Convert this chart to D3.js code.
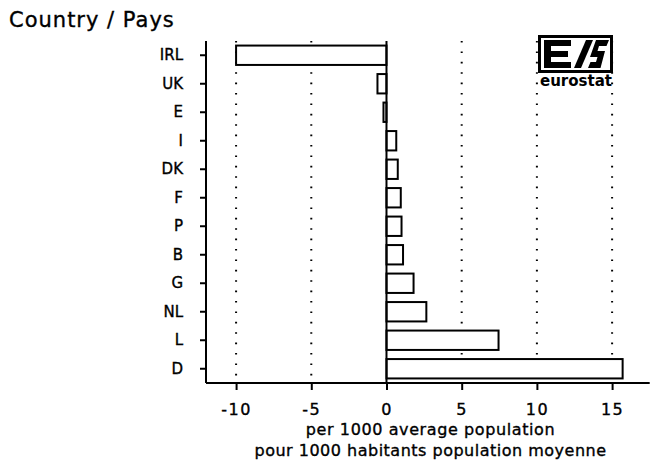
<!DOCTYPE html>
<html>
<head>
<meta charset="utf-8">
<script src="https://cdn.jsdelivr.net/npm/d3@7"></script>
<style>
body{margin:0;background:#fff;}
text{font-family:"DejaVu Sans",sans-serif;fill:#000;stroke:#000;stroke-width:0.35px;}
</style>
</head>
<body>
<div id="chart"></div>
<script>
// countries top to bottom
const paises = ["IRL","UK","E","I","DK","F","P","B","G","NL","L","D"];
// per 1000 average population
const valores = [-10.0,-0.6,-0.2,0.65,0.75,0.95,1.0,1.1,1.8,2.65,7.45,15.7];
const xTicks = [-10,-5,0,5,10,15];
const gridTicks = [-10,-5,5,10,15];
const titulo = "Country / Pays";
const ejeX1 = "per 1000 average population";
const ejeX2 = "pour 1000 habitants population moyenne";

const width = 651;
const height = 463;

const datos = paises.map((p,i)=>({pais:p,valor:valores[i]}));

const svg = d3.select("#chart")
  .append("svg")
  .attr("width",width)
  .attr("height",height);

const x = d3.scaleLinear()
  .domain([-12,17.5])
  .range([206,649.7]);

const y = d3.scaleBand()
  .domain(paises)
  .range([41,383])
  .paddingInner(0.32)
  .paddingOuter(0.16);

// dotted grid
svg.selectAll(".grid")
  .data(gridTicks)
  .enter()
  .append("line")
  .attr("x1",d=>x(d))
  .attr("x2",d=>x(d))
  .attr("y1",41)
  .attr("y2",383)
  .attr("stroke","#000")
  .attr("stroke-width",2)
  .attr("stroke-dasharray","1.6,8.8");

// bars
svg.selectAll(".barra")
  .data(datos)
  .enter()
  .append("rect")
  .attr("x",d=>x(Math.min(0,d.valor)))
  .attr("y",d=>y(d.pais))
  .attr("width",d=>Math.abs(x(d.valor)-x(0)))
  .attr("height",y.bandwidth())
  .attr("fill","#fff")
  .attr("stroke","#000")
  .attr("stroke-width",2);

// zero line
svg.append("line")
  .attr("x1",x(0))
  .attr("x2",x(0))
  .attr("y1",41)
  .attr("y2",383)
  .attr("stroke","#000")
  .attr("stroke-width",2);

// axes
const gx = svg.append("g")
  .attr("transform","translate(0,383)")
  .call(d3.axisBottom(x)
    .tickValues(xTicks)
    .tickSize(7)
    .tickPadding(14)
    .tickFormat(d=>d<0 ? "-"+Math.abs(d) : d));
gx.select(".domain").attr("stroke-width",2).attr("d","M206,0H649.7");
gx.selectAll(".tick line").attr("stroke-width",2);
gx.selectAll("text")
  .style("font-size","16px")
  .style("letter-spacing","1.5px")
  .style("font-family","DejaVu Sans");

const gy = svg.append("g")
  .attr("transform","translate(206,0)")
  .call(d3.axisLeft(y).tickSize(6).tickPadding(17));
gy.select(".domain").attr("stroke-width",2).attr("d","M0,41V383");
gy.selectAll(".tick line").attr("stroke-width",2);
gy.selectAll("text")
  .style("font-size","15px")
  .style("font-family","DejaVu Sans");

// title
svg.append("text")
  .attr("x",9)
  .attr("y",27)
  .style("font-size","21px")
  .style("letter-spacing","1px")
  .text(titulo);

// axis labels
svg.append("text")
  .attr("x",430.5)
  .attr("y",435)
  .attr("text-anchor","middle")
  .style("font-size","16px")
  .style("letter-spacing","0.6px")
  .text(ejeX1);

svg.append("text")
  .attr("x",430.5)
  .attr("y",456)
  .attr("text-anchor","middle")
  .style("font-size","16px")
  .style("letter-spacing","0.5px")
  .text(ejeX2);

// eurostat logo
const logo = svg.append("g").attr("transform","translate(538,35)");
logo.append("rect")
  .attr("x",1.5).attr("y",1.5)
  .attr("width",72).attr("height",35)
  .attr("fill","#fff")
  .attr("stroke","#000")
  .attr("stroke-width",3);
logo.append("path")
  .attr("fill","#000")
  .attr("d","M6,5H33V11H13V16H30V22H13V27H33V33H6Z");
logo.append("path")
  .attr("fill","#000")
  .attr("d","M36,33H43L55,5H48Z");
logo.append("path")
  .attr("fill","#000")
  .attr("d","M58,5H71L68.5,11H61L59.5,16H67L62.5,33H50L52.5,27H58L59.5,22H52Z");
logo.append("text")
  .attr("x",2)
  .attr("y",51)
  .attr("textLength",72)
  .attr("lengthAdjust","spacingAndGlyphs")
  .style("font-size","15px")
  .style("font-weight","bold")
  .style("stroke-width","0")
  .text("eurostat");
</script>
</body>
</html>
